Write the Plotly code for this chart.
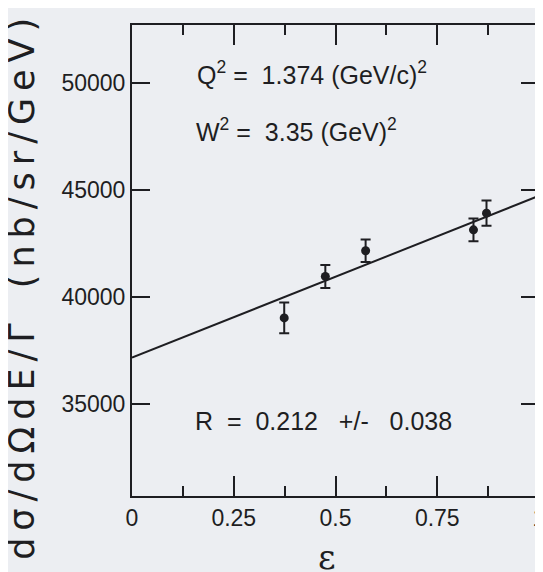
import plotly.graph_objects as go

# data
eps = [0.374, 0.475, 0.574, 0.839, 0.871]
sigma = [39030, 40970, 42170, 43150, 43930]
sigma_err = [720, 540, 530, 530, 590]

fit_eps = [0.0, 1.0]
fit_sigma = [37170, 44740]

x_tickvals = [0, 0.25, 0.5, 0.75, 1]
x_ticktext = ["0", "0.25", "0.5", "0.75", "1"]
y_tickvals = [35000, 40000, 45000, 50000]
y_ticktext = ["35000", "40000", "45000", "50000"]

ink = "#1e1e22"
paper = "#eceef2"
tick_font = dict(family="Liberation Sans, Arial, sans-serif", size=23, color=ink)

fig = go.Figure()
fig.add_trace(go.Scatter(x=fit_eps, y=fit_sigma, mode="lines",
                         line=dict(color=ink, width=2), showlegend=False,
                         hoverinfo="skip", cliponaxis=False))
fig.add_trace(go.Scatter(x=eps, y=sigma, mode="markers",
                         marker=dict(color=ink, size=9),
                         error_y=dict(type="data", array=sigma_err, visible=True,
                                      color=ink, thickness=2, width=5),
                         showlegend=False))

ann_font = dict(family="Liberation Sans, Arial, sans-serif", size=25, color=ink)
fig.add_annotation(x=0.156, y=50490, xref="x", yref="y", xanchor="left", yanchor="middle",
                   text="Q<sup>2</sup> =  1.374 (GeV/c)<sup>2</sup>", showarrow=False, font=ann_font)
fig.add_annotation(x=0.152, y=47827, xref="x", yref="y", xanchor="left", yanchor="middle",
                   text="W<sup>2</sup> =  3.35 (GeV)<sup>2</sup>", showarrow=False, font=ann_font)
fig.add_annotation(x=0.151, y=34196, xref="x", yref="y", xanchor="left", yanchor="middle",
                   text="R  =  0.212   +/-   0.038", showarrow=False, font=ann_font)

ytitle = "\u2009".join(list("dσ/dΩdE/Γ")) + "\u2009\u2009\u2009\u2009\u2009" + "\u2009".join(list("(nb/sr/GeV)"))
fig.add_annotation(x=-0.27, y=0.44, xref="paper", yref="paper", xanchor="center", yanchor="middle",
                   text=ytitle, textangle=-90, showarrow=False,
                   font=dict(family="DejaVu Sans, sans-serif", size=35, color=ink))
fig.add_annotation(x=0.48, y=-0.13, xref="paper", yref="paper", xanchor="center", yanchor="middle",
                   text="ε", showarrow=False,
                   font=dict(family="DejaVu Serif, serif", size=34, color=ink))

fig.update_xaxes(range=[0, 1.0], tickmode="array", tickvals=x_tickvals, ticktext=x_ticktext,
                 ticks="inside", ticklen=20, tickwidth=2, tickcolor=ink,
                 minor=dict(dtick=0.125, tick0=0, ticks="inside", ticklen=10, tickwidth=2, tickcolor=ink),
                 showline=True, linecolor=ink, linewidth=2, mirror="ticks",
                 showgrid=False, zeroline=False, tickfont=tick_font, automargin=False,
                 ticklabelstandoff=0)
fig.update_yaxes(range=[30700, 52730], tickmode="array", tickvals=y_tickvals, ticktext=y_ticktext,
                 ticks="inside", ticklen=18, tickwidth=2, tickcolor=ink,
                 showline=True, linecolor=ink, linewidth=2, mirror="ticks",
                 showgrid=False, zeroline=False, tickfont=tick_font, automargin=False)

# the page has a body margin, so the figure is laid out a few px left/up of the target
fig.update_layout(width=543, height=572,
                  margin=dict(l=124, r=12, t=17, b=84),
                  paper_bgcolor=paper, plot_bgcolor=paper,
                  showlegend=False)

fig.write_html("out.html")
